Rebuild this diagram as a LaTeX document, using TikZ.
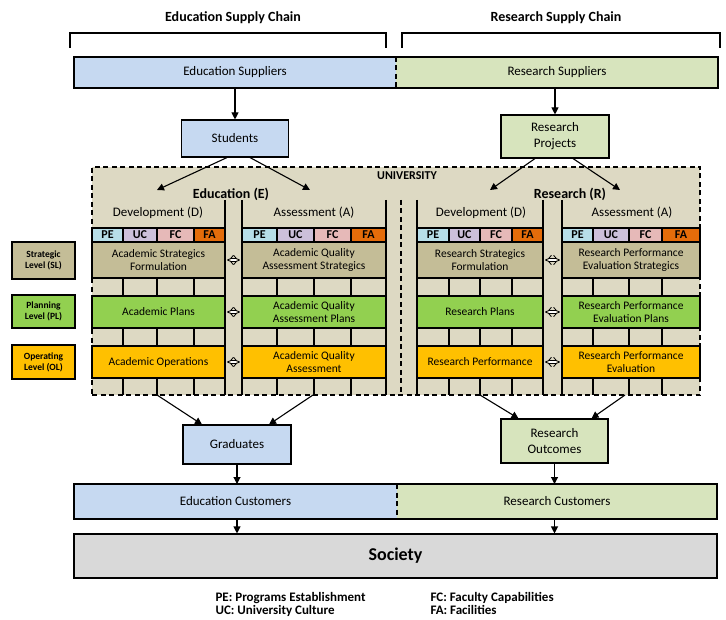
\documentclass[tikz,border=0pt]{standalone}
\usepackage{fontspec}
\setmainfont{Carlito}
\usetikzlibrary{arrows.meta, positioning}

\definecolor{edublue}{HTML}{C6D9F1}
\definecolor{resgreen}{HTML}{D7E4BD}
\definecolor{unibeige}{HTML}{DDD9C3}
\definecolor{sltan}{HTML}{C4BD97}
\definecolor{plgreen}{HTML}{92D050}
\definecolor{olorange}{HTML}{FFC000}
\definecolor{pecol}{HTML}{B7DEE8}
\definecolor{uccol}{HTML}{CCC0DA}
\definecolor{fccol}{HTML}{E6B9B8}
\definecolor{facol}{HTML}{E46C0A}
\definecolor{societygray}{HTML}{D9D9D9}

\newcommand{\fsz}[2]{\fontsize{#1}{#2}\selectfont}

\begin{document}
\begin{tikzpicture}[x=1pt, y=-1pt, line width=1.1pt,
    title/.style={font=\fsz{14}{16}\bfseries},
    hdr/.style={font=\fsz{13}{15}},
    box/.style={draw, align=center, font=\fsz{13}{16}},
    bar/.style={minimum height=#1, outer sep=0pt, font=\fsz{13}{15}},
    rowbox/.style={draw, align=center, inner sep=1pt, font=\fsz{11.5}{13}},
    tagcell/.style={draw, minimum height=14, inner sep=0pt, font=\fsz{12}{12}\bfseries},
    level/.style={draw, minimum width=63, align=center, inner sep=1pt, font=\fsz{9.5}{11}\bfseries},
    legend/.style={anchor=west, inner sep=0pt, font=\fsz{13}{14}\bfseries},
    dashline/.style={dash pattern=on 5pt off 3.5pt},
    arr/.style={-{Triangle[length=7pt, width=7pt]}},
    dblarr/.style={double, double distance=2.6pt, line width=0.8pt, {Implies}-{Implies}, shorten <=1.5pt, shorten >=1.5pt}]

    \fill[white] (0,0) rectangle (726,620);
    \useasboundingbox (0,0) rectangle (726,620);

    % Supply chain titles and brackets
    \node[title] (edutitle) at (233,18) {Education Supply Chain};
    \node[title] (restitle) at (556,18) {Research Supply Chain};
    \draw (70,48) -- (70,33) -- (386,33) -- (386,48);
    \draw (402,48) -- (402,33) -- (720,33) -- (720,48);

    % Suppliers
    \node[bar=31, fill=edublue, minimum width=322] (edusup) at (235,72.5) {Education Suppliers};
    \node[bar=31, fill=resgreen, minimum width=322] (ressup) at (557,72.5) {Research Suppliers};
    \draw (edusup.north west) rectangle (ressup.south east);
    \draw[dashline] (edusup.north east) -- (edusup.south east);

    % Inputs
    \node[box, fill=edublue, minimum width=107, minimum height=37] (students) at (235,138.5) {Students};
    \draw[arr] (edusup.south -| students.north) -- (students.north);
    \node[box, fill=resgreen, minimum width=108, minimum height=43] (resproj) at (555,136.5) {Research\\Projects};
    \draw[arr] (ressup.south -| resproj.north) -- (resproj.north);

    % University
    \node[draw, dashline, fill=unibeige, minimum width=608, minimum height=228, outer sep=0pt] (uni) at (396,281) {};
    \node[font=\fsz{12}{14}\bfseries] (unilabel) at (407,176) {UNIVERSITY};
    \node[title] (edulabel) at (231,194) {Education (E)};
    \node[title] (reslabel) at (570,194) {Research (R)};

    \coordinate (edin1) at (157,190);
    \coordinate (edin2) at (310,190);
    \coordinate (resin1) at (490,190);
    \coordinate (resin2) at (620,190);
    \draw[arr] ([xshift=-8pt]students.south) -- (edin1);
    \draw[arr] ([xshift=15pt]students.south) -- (edin2);
    \draw[arr] ([xshift=-20pt]resproj.south) -- (resin1);
    \draw[arr] ([xshift=18pt]resproj.south) -- (resin2);

    % Column headers
    \node[hdr] (eddhdr) at (158,213) {Development (D)};
    \node[hdr] (eaahdr) at (314,213) {Assessment (A)};
    \node[hdr] (rddhdr) at (481,213) {Development (D)};
    \node[hdr] (raahdr) at (632,213) {Assessment (A)};

    % Column lines
    \foreach \x in {225,242,386,417,543,562}
        \draw (\x,200) -- (\x,395);
    \draw[dashline] (401,200) -- (401,395);

    % PE/UC/FC/FA cells and bricks
    \foreach \col/\xa/\xb/\xc/\xd/\xe in {ed/92/123/157/194/225, ea/242/277/314/351/386, rd/417/449/480/512/543, ra/562/593/629/662/700} {
        \node[tagcell, fill=pecol, minimum width={\xb-\xa}] (\col pe) at ({(\xa+\xb)/2},235) {PE};
        \node[tagcell, fill=uccol, minimum width={\xc-\xb}] (\col uc) at ({(\xb+\xc)/2},235) {UC};
        \node[tagcell, fill=fccol, minimum width={\xd-\xc}] (\col fc) at ({(\xc+\xd)/2},235) {FC};
        \node[tagcell, fill=facol, minimum width={\xe-\xd}] (\col fa) at ({(\xd+\xe)/2},235) {FA};
        \foreach \ya/\yb in {278/296, 328/346, 378/395}
            \draw (\xb,\ya) -- (\xb,\yb) (\xc,\ya) -- (\xc,\yb) (\xd,\ya) -- (\xd,\yb);
    }

    % Strategic level
    \node[rowbox, fill=sltan, minimum width=133, minimum height=36] (edsl) at (158.5,260) {Academic Strategics\\Formulation};
    \node[rowbox, fill=sltan, minimum width=144, minimum height=36] (easl) at (314,260) {Academic Quality\\Assessment Strategics};
    \node[rowbox, fill=sltan, minimum width=126, minimum height=36] (rdsl) at (480,260) {Research Strategics\\Formulation};
    \node[rowbox, fill=sltan, minimum width=138, minimum height=36] (rasl) at (631,260) {Research Performance\\Evaluation Strategics};

    % Planning level
    \node[rowbox, fill=plgreen, minimum width=133, minimum height=32] (edpl) at (158.5,312) {Academic Plans};
    \node[rowbox, fill=plgreen, minimum width=144, minimum height=32] (eapl) at (314,312) {Academic Quality\\Assessment Plans};
    \node[rowbox, fill=plgreen, minimum width=126, minimum height=32] (rdpl) at (480,312) {Research Plans};
    \node[rowbox, fill=plgreen, minimum width=138, minimum height=32] (rapl) at (631,312) {Research Performance\\Evaluation Plans};

    % Operating level
    \node[rowbox, fill=olorange, minimum width=133, minimum height=32] (edol) at (158.5,362) {Academic Operations};
    \node[rowbox, fill=olorange, minimum width=144, minimum height=32] (eaol) at (314,362) {Academic Quality\\Assessment};
    \node[rowbox, fill=olorange, minimum width=126, minimum height=32] (rdol) at (480,362) {Research Performance};
    \node[rowbox, fill=olorange, minimum width=138, minimum height=32] (raol) at (631,362) {Research Performance\\Evaluation};

    % Development <-> Assessment
    \draw[dblarr] (edsl) -- (easl);
    \draw[dblarr] (edpl) -- (eapl);
    \draw[dblarr] (edol) -- (eaol);
    \draw[dblarr] (rdsl) -- (rasl);
    \draw[dblarr] (rdpl) -- (rapl);
    \draw[dblarr] (rdol) -- (raol);

    % Levels
    \node[level, fill=sltan, minimum height=37] (sl) at (43.5,260.5) {Strategic\\Level (SL)};
    \node[level, fill=plgreen, minimum height=33] (pl) at (43.5,311.5) {Planning\\Level (PL)};
    \node[level, fill=olorange, minimum height=34] (ol) at (43.5,362) {Operating\\Level (OL)};

    % Outputs
    \node[box, fill=edublue, minimum width=108, minimum height=39] (grad) at (237,444.5) {Graduates};
    \node[box, fill=resgreen, minimum width=107, minimum height=44] (resout) at (554.5,441) {Research\\Outcomes};
    \coordinate (edout1) at (157,395);
    \coordinate (edout2) at (313,395);
    \coordinate (resout1) at (480,395);
    \coordinate (resout2) at (625,395);
    \draw[arr] (edout1) -- ([xshift=-35pt]grad.north);
    \draw[arr] (edout2) -- ([xshift=32pt]grad.north);
    \draw[arr] (resout1) -- ([xshift=-36pt]resout.north);
    \draw[arr] (resout2) -- ([xshift=37pt]resout.north);

    % Customers
    \node[bar=35, fill=edublue, minimum width=323] (educust) at (235.5,501.5) {Education Customers};
    \node[bar=35, fill=resgreen, minimum width=320] (rescust) at (557,501.5) {Research Customers};
    \draw (educust.north west) rectangle (rescust.south east);
    \draw[dashline] (educust.north east) -- (educust.south east);
    \draw[arr] (grad.south) -- (grad.south |- educust.north);
    \draw[arr] (resout.south) -- (resout.south |- rescust.north);

    % Society
    \node[draw, fill=societygray, minimum width=643, minimum height=44, font=\fsz{18}{20}\bfseries] (society) at (395.5,556) {Society};
    \draw[arr] (grad.south |- educust.south) -- (grad.south |- society.north);
    \draw[arr] (resout.south |- rescust.south) -- (resout.south |- society.north);

    % Legend
    \node[legend] (pelegend) at (215,598) {PE: Programs Establishment};
    \node[legend, below=1pt of pelegend.south west, anchor=north west] (uclegend) {UC: University Culture};
    \node[legend] (fclegend) at (430,598) {FC: Faculty Capabilities};
    \node[legend, below=1pt of fclegend.south west, anchor=north west] (falegend) {FA: Facilities};

\end{tikzpicture}
\end{document}
